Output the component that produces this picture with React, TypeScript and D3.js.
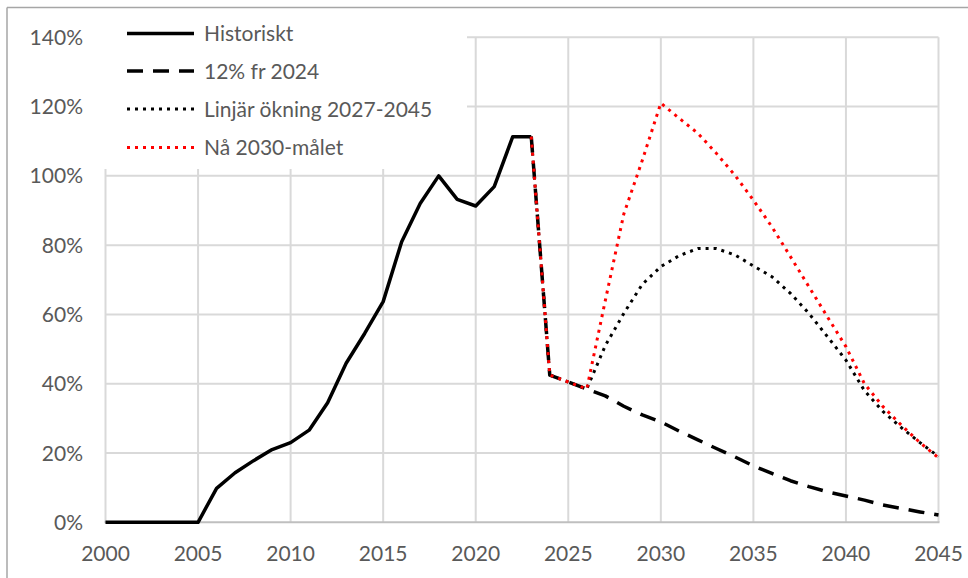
import React from 'react'
import * as d3 from 'd3'

const histYears = d3.range(2000, 2024)
const histVals = [0, 0, 0, 0, 0, 0, 9.8, 14.3, 17.8, 21, 23, 26.6, 34.5, 45.9, 54.5, 63.7, 81, 92, 100, 93.2, 91.3, 96.9, 111.3, 111.3]

const scenYears = d3.range(2023, 2046)
const dashedVals = [111.3, 42.5, 40.5, 38.5, 36.5, 33.5, 31, 29, 26.3, 23.8, 21.3, 18.9, 16.3, 14.1, 12, 10.3, 8.8, 7.6, 6.4, 5, 4, 3, 2.1]
const linearVals = [111.3, 42.5, 40.5, 38.5, 51, 60.3, 68.7, 73.8, 77, 79, 79, 77.2, 74, 70.9, 66.1, 60.3, 53.6, 46.8, 38, 32, 27.3, 23, 19]
const targetVals = [111.3, 42.5, 40.5, 38.5, 64, 89, 104.5, 121, 116.6, 112.3, 106.5, 100.2, 93, 85.3, 76.7, 68, 59.3, 50.7, 40, 33.4, 28, 23, 18.6]

const yTicks = [0, 20, 40, 60, 80, 100, 120, 140]
const xTicks = d3.range(2000, 2046, 5)

const legendItems = [
  { label: 'Historiskt', color: '#000', dash: null, width: 3.5 },
  { label: '12% fr 2024', color: '#000', dash: '16,10', width: 3.5 },
  { label: 'Linjär ökning 2027-2045', color: '#000', dash: '3,5', width: 3 },
  { label: 'Nå 2030-målet', color: '#ff0000', dash: '3,5', width: 3 },
]

const W = 968
const H = 578
const font = 'Lato, "Open Sans", sans-serif'

export default function App() {
  const x = d3.scaleLinear().domain([2000, 2045]).range([105.5, 938.5])
  const y = d3.scaleLinear().domain([0, 140]).range([522.3, 37.3])

  const line = d3.line<[number, number]>().x(d => x(d[0])).y(d => y(d[1]))
  const pairs = (yrs: number[], vals: number[]) => yrs.map((yr, i) => [yr, vals[i]] as [number, number])

  const series = [
    { vals: pairs(histYears, histVals), ...legendItems[0] },
    { vals: pairs(scenYears, dashedVals), ...legendItems[1] },
    { vals: pairs(scenYears, linearVals), ...legendItems[2] },
    { vals: pairs(scenYears, targetVals), ...legendItems[3] },
  ]

  const legX = 127
  const legRows = [33.5, 71, 109, 147.5]

  return (
    <svg width={W} height={H} style={{ position: 'absolute', left: 0, top: 0, background: '#fff' }} fontFamily={font}>
      <rect x={0} y={0} width={W} height={H} fill="#fff" />
      {/* outer frame */}
      <line x1={7} x2={W} y1={7.5} y2={7.5} stroke="#a6a6a6" strokeWidth={1.5} />
      <line x1={7} x2={7} y1={7.5} y2={H} stroke="#a6a6a6" strokeWidth={1.5} />

      {/* grid */}
      {yTicks.filter(t => t > 0).map(t => (
        <line key={'gy' + t} x1={x(2000)} x2={x(2045)} y1={y(t)} y2={y(t)} stroke="#d9d9d9" strokeWidth={2} />
      ))}
      {xTicks.map(t => (
        <line key={'gx' + t} x1={x(t)} x2={x(t)} y1={y(140)} y2={y(0)} stroke="#d9d9d9" strokeWidth={2} />
      ))}
      <line x1={x(2000) - 1} x2={x(2045) + 1} y1={y(0)} y2={y(0)} stroke="#bfbfbf" strokeWidth={2} />

      {/* axis labels */}
      {yTicks.map(t => (
        <text key={'ty' + t} x={83} y={y(t) + 7.5} textAnchor="end" fontSize={21} fill="#595959">{t}%</text>
      ))}
      {xTicks.map(t => (
        <text key={'tx' + t} x={x(t)} y={561} textAnchor="middle" fontSize={21} fill="#595959">{t}</text>
      ))}

      {/* legend box covers grid */}
      <rect x={100} y={14} width={367} height={155} fill="#fff" />

      {series.map((s, i) => (
        <path key={'s' + i} d={line(s.vals) || ''} fill="none" stroke={s.color} strokeWidth={s.width}
          strokeDasharray={s.dash || undefined} strokeLinejoin="round" />
      ))}

      {legendItems.map((it, i) => (
        <g key={'l' + i}>
          <line x1={legX} x2={legX + 67} y1={legRows[i]} y2={legRows[i]} stroke={it.color} strokeWidth={it.width}
            strokeDasharray={it.dash || undefined} />
          <text x={204} y={legRows[i] + 7.5} fontSize={21} fill="#595959">{it.label}</text>
        </g>
      ))}
    </svg>
  )
}
